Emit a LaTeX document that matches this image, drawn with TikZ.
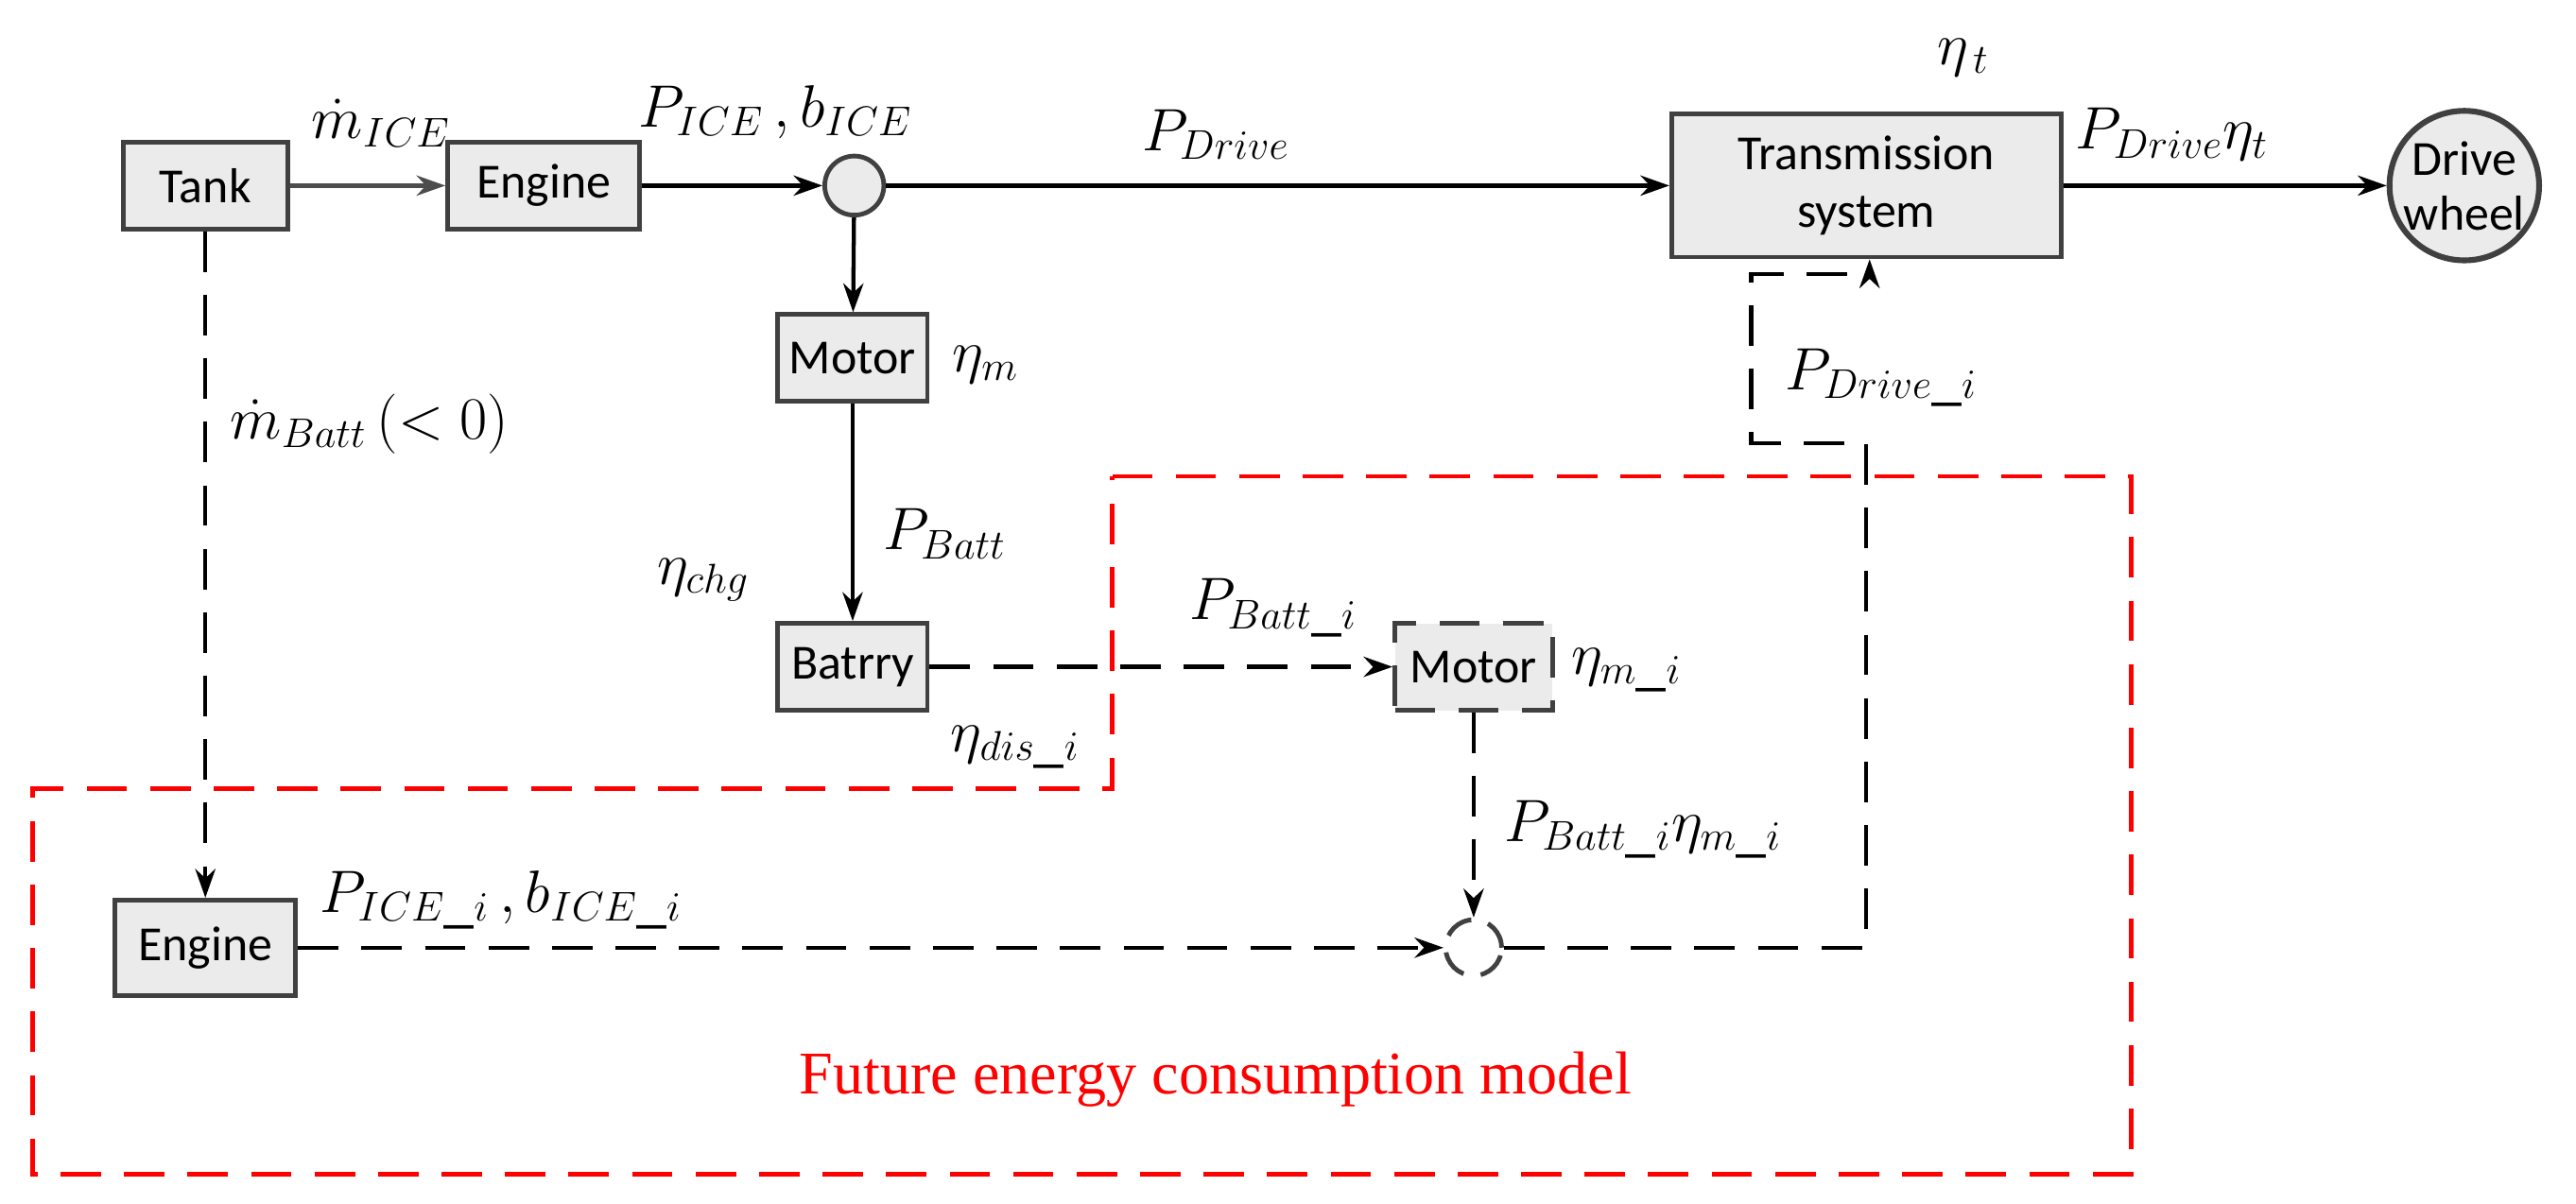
\documentclass[tikz,border=0pt]{standalone}
\usepackage{fontspec}
\setmainfont{Carlito}
\usetikzlibrary{arrows.meta}
\begin{document}
\begin{tikzpicture}[x=0.02cm,y=-0.02cm,
 box/.style={draw=black!75,line width=1.6pt,fill=black!8,minimum height=1.06cm,inner sep=2pt,font=\fontsize{17}{20}\selectfont},
 lab/.style={font=\fontsize{21}{25}\selectfont},
 arr/.style={line width=1.4pt,-{Stealth[length=10pt,width=7pt]}},
 dsh/.style={dash pattern=on 14pt off 8pt}]
\useasboundingbox (0,0) rectangle (1568,732.5);
\node[box,minimum width=2cm] (tank) at (125,113) {Tank};
\node[box,minimum width=2.34cm] (eng) at (331,113) {Engine};
\node[draw=black!75,line width=1.6pt,fill=black!8,circle,minimum size=0.72cm] (j1) at (520,113) {};
\node[box,minimum width=4.74cm,minimum height=1.74cm,align=center] (tr) at (1136,113) {Transmission\\system};
\node[draw=black!75,line width=2pt,fill=black!8,circle,minimum size=1.8cm,inner sep=0pt,align=center,font=\fontsize{17}{19}\selectfont] (dw) at (1500,113) {Drive\\wheel};
\node[box,minimum width=1.82cm] (mot) at (519,218) {Motor};
\node[box,minimum width=1.82cm] (bat) at (519,406) {Batrry};
\node[box,minimum width=1.92cm,dsh] (mot2) at (897,406) {Motor};
\node[box,minimum width=2.2cm,minimum height=1.16cm] (eng2) at (125,577) {Engine};
\node[draw=black!75,line width=1.6pt,circle,dash pattern=on 10pt off 6pt,minimum size=0.68cm] (j2) at (897,577) {};
\draw[red,line width=1.6pt,dsh] (677,290) -- (1297,290) -- (1297,715) -- (20,715) -- (20,480) -- (677,480) -- cycle;
\draw[arr,black!70] (tank) -- (eng);
\draw[arr] (eng) -- (j1);
\draw[arr] (j1) -- (tr);
\draw[arr] (tr) -- (dw);
\draw[arr] (j1) -- (mot);
\draw[arr] (mot) -- (bat);
\draw[arr,dsh] (tank) -- (eng2);
\draw[arr,dsh] (bat) -- (mot2);
\draw[arr,dsh] (mot2) -- (j2);
\draw[arr,dsh] (eng2) -- (j2);
\coordinate (c1) at (1136,577); \coordinate (c2) at (1136,270);
\coordinate (c3) at (1066,270); \coordinate (c4) at (1066,167); \coordinate (c5) at (1138,167);
\draw[arr,dsh] (j2) -- (c1) -- (c2) -- (c3) -- (c4) -- (c5) -- (c5 |- tr.south);
\node[lab] (l1) at (232,75) {$\dot m_{ICE}$};
\node[lab] (l2) at (472,68) {$P_{ICE}\,,b_{ICE}$};
\node[lab] (l3) at (740,82) {$P_{Drive}$};
\node[lab] (l4) at (1195,35) {$\eta_{\,t}$};
\node[lab] (l5) at (1322,82) {$P_{Drive}\eta_t$};
\node[lab] (l6) at (600,222) {$\eta_m$};
\node[lab] (l7) at (225,258) {$\dot m_{Batt}\,(<0)$};
\node[lab] (l8) at (575,325) {$P_{Batt}$};
\node[lab] (l9) at (428,353) {$\eta_{chg}$};
\node[lab] (l10) at (618,455) {$\eta_{dis\_i}$};
\node[lab] (l11) at (775,370) {$P_{Batt\_i}$};
\node[lab] (l12) at (990,408) {$\eta_{m\_i}$};
\node[lab] (l13) at (1145,230) {$P_{Drive\_i}$};
\node[lab] (l14) at (1000,505) {$P_{Batt\_i}\eta_{m\_i}$};
\node[lab] (l15) at (305,548) {$P_{ICE\_i}\,,b_{ICE\_i}$};
\node[red,font=\fontspec{Liberation Serif}\fontsize{21}{24}\selectfont] (fm) at (740,657) {Future energy consumption model};
\end{tikzpicture}
\end{document}
